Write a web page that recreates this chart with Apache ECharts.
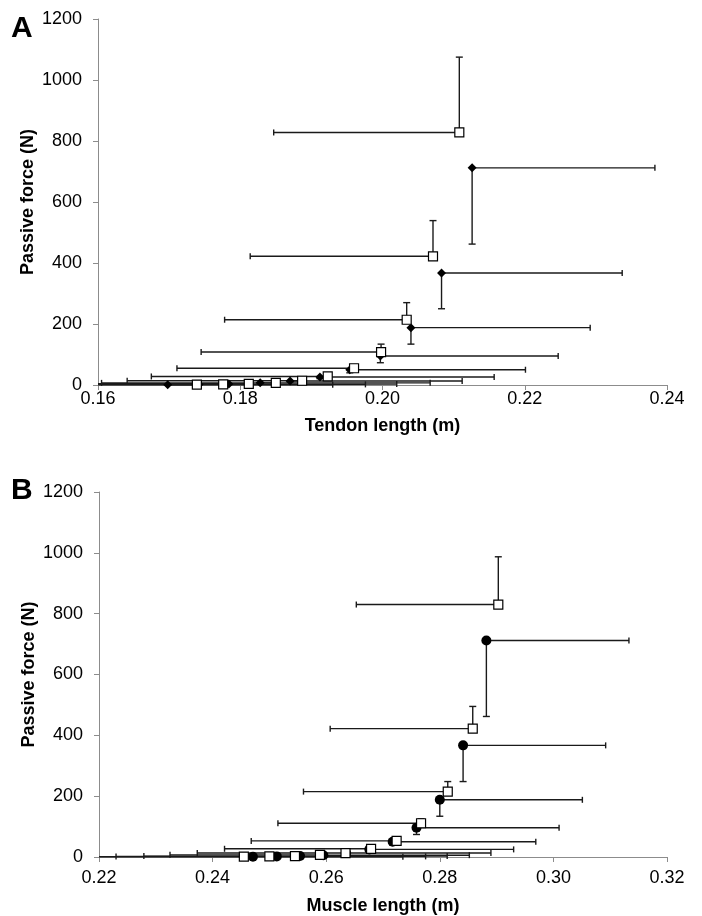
<!DOCTYPE html>
<html><head><meta charset="utf-8">
<script src="https://cdn.jsdelivr.net/npm/echarts@6/dist/echarts.min.js"></script>
<style>html,body{margin:0;padding:0;background:#fff}#c{width:702px;height:916px}</style>
</head><body><div id="c"></div>
<script>
// Panel A: tendon length vs passive force
const tendonOpenX    = [0.2108, 0.2071, 0.2034, 0.1998, 0.1960, 0.1923, 0.1887, 0.1850, 0.1812, 0.1776, 0.1739];
const tendonOpenY    = [828, 422, 214, 108, 55, 28, 14, 7, 4, 2, 1];
const tendonOpenXErr = [0.0261, 0.0257, 0.0256, 0.0253, 0.0249, 0.0248, 0.0246, 0.0245, 0.0244, 0.0243, 0.0242];
const tendonOpenYErr = [247, 117, 56, 26, 12, 6, 3, 2, 1, 0.5, 0.3];

const tendonFilledX    = [0.2126, 0.2083, 0.2040, 0.1997, 0.1954, 0.1912, 0.1870, 0.1828, 0.1784, 0.1742, 0.1698];
const tendonFilledY    = [712, 367, 188, 95, 50, 26, 13, 7, 3, 2, 1];
const tendonFilledXErr = [0.0257, 0.0254, 0.0252, 0.0250, 0.0247, 0.0245, 0.0242, 0.0239, 0.0236, 0.0234, 0.0232];
const tendonFilledYErr = [250, 117, 54, 22, 10, 5, 3, 1, 1, 0.5, 0.3];

// Panel B: muscle length vs passive force
const muscleOpenX    = [0.2903, 0.2858, 0.2814, 0.2767, 0.2724, 0.2679, 0.2634, 0.2589, 0.2545, 0.2500, 0.2455];
const muscleOpenY    = [830, 422, 215, 111, 53, 27, 13, 7, 3, 2, 1];
const muscleOpenXErr = [0.0250, 0.0251, 0.0254, 0.0252, 0.0256, 0.0258, 0.0261, 0.0264, 0.0266, 0.0270, 0.0272];
const muscleOpenYErr = [157, 73, 33, 15, 7, 4, 2, 1, 0.5, 0.3, 0.2];

const muscleFilledX    = [0.2882, 0.2841, 0.2800, 0.2759, 0.2717, 0.2676, 0.2635, 0.2595, 0.2554, 0.2513, 0.2471];
const muscleFilledY    = [712, 367, 188, 96, 50, 25, 13, 6, 3, 2, 1];
const muscleFilledXErr = [0.0251, 0.0251, 0.0251, 0.0251, 0.0252, 0.0254, 0.0255, 0.0257, 0.0259, 0.0262, 0.0264];
const muscleFilledYErr = [250, 119, 54, 22, 10, 5, 2, 1, 0.5, 0.3, 0.2];

const yTicks = [0, 200, 400, 600, 800, 1000, 1200];
const xRangeA = [0.16, 0.24];
const xRangeB = [0.22, 0.32];
const xStep = 0.02;
const titleA = 'Tendon length (m)';
const titleB = 'Muscle length (m)';
const yTitle = 'Passive force (N)';

const FONT = '"Liberation Sans", Arial, sans-serif';
const AXIS_COLOR = '#8c8c8c';
const BAR_COLOR = '#1a1a1a';

function errorSeries(idx, xs, ys, xe, ye, xDir, yDir, xMin) {
  const data = xs.map((x, i) => [x, ys[i], xe[i], ye[i]]);
  return {
    type: 'custom', xAxisIndex: idx, yAxisIndex: idx, data: data, z: 2, silent: true,
    renderItem: function (params, api) {
      const x = api.value(0), y = api.value(1), ex = api.value(2), ey = api.value(3);
      let x2 = x + xDir * ex, capX = true;
      if (x2 < xMin) { x2 = xMin; capX = false; }
      let y2 = y + yDir * ey, capY = true;
      if (y2 < 0) { y2 = 0; capY = false; }
      const p = api.coord([x, y]);
      const px = api.coord([x2, y]);
      const py = api.coord([x, y2]);
      const st = { stroke: BAR_COLOR, lineWidth: 1.4 };
      const ch = [
        { type: 'line', shape: { x1: p[0], y1: p[1], x2: px[0], y2: px[1] }, style: st },
        { type: 'line', shape: { x1: p[0], y1: p[1], x2: py[0], y2: py[1] }, style: st }
      ];
      if (capX) ch.push({ type: 'line', shape: { x1: px[0], y1: px[1] - 3, x2: px[0], y2: px[1] + 3 }, style: st });
      if (capY) ch.push({ type: 'line', shape: { x1: py[0] - 3.5, y1: py[1], x2: py[0] + 3.5, y2: py[1] }, style: st });
      return { type: 'group', children: ch };
    }
  };
}

function xAxis(idx, range, name, margin, nameGap) {
  return {
    type: 'value', gridIndex: idx, min: range[0], max: range[1], interval: xStep,
    name: name, nameLocation: 'middle', nameGap: nameGap,
    nameTextStyle: { fontFamily: FONT, fontSize: 18, fontWeight: 'bold', color: '#000' },
    axisLine: { show: true, onZero: false, lineStyle: { color: AXIS_COLOR, width: 1 } },
    axisTick: { show: true, length: 5, inside: false, lineStyle: { color: AXIS_COLOR } },
    axisLabel: { fontFamily: FONT, fontSize: 18, color: '#000', margin: margin,
      formatter: v => v.toFixed(2) },
    splitLine: { show: false }
  };
}
function yAxis(idx) {
  return {
    type: 'value', gridIndex: idx, min: yTicks[0], max: yTicks[yTicks.length - 1], interval: yTicks[1] - yTicks[0],
    name: yTitle, nameLocation: 'middle', nameRotate: 90, nameGap: 61, nameMoveOverlap: false,
    nameTextStyle: { fontFamily: FONT, fontSize: 18, fontWeight: 'bold', color: '#000' },
    axisLine: { show: true, lineStyle: { color: AXIS_COLOR, width: 1 } },
    axisTick: { show: true, length: 5, lineStyle: { color: AXIS_COLOR } },
    axisLabel: { fontFamily: FONT, fontSize: 18, color: '#000', margin: 16, formatter: v => String(v) },
    splitLine: { show: false }
  };
}

function pts(xs, ys) { return xs.map((x, i) => [x, ys[i]]); }

const openStyle = { color: '#fff', borderColor: '#000', borderWidth: 1.2, opacity: 1 };
const filledStyle = { color: '#000', opacity: 1 };

const option = {
  animation: false,
  backgroundColor: '#fff',
  grid: [
    { left: 98, top: 19, width: 569, height: 366 },
    { left: 99, top: 492, width: 568, height: 366 }
  ],
  xAxis: [xAxis(0, xRangeA, titleA, 5, 32), xAxis(1, xRangeB, titleB, 12, 40)],
  yAxis: [yAxis(0), yAxis(1)],
  graphic: [
    { type: 'text', left: 11, top: 14, style: { text: 'A', font: 'bold 30px ' + FONT, fill: '#000' } },
    { type: 'text', left: 11, top: 476, style: { text: 'B', font: 'bold 30px ' + FONT, fill: '#000' } }
  ],
  series: [
    errorSeries(0, tendonOpenX, tendonOpenY, tendonOpenXErr, tendonOpenYErr, -1, 1, xRangeA[0]),
    errorSeries(0, tendonFilledX, tendonFilledY, tendonFilledXErr, tendonFilledYErr, 1, -1, xRangeA[0]),
    errorSeries(1, muscleOpenX, muscleOpenY, muscleOpenXErr, muscleOpenYErr, -1, 1, xRangeB[0]),
    errorSeries(1, muscleFilledX, muscleFilledY, muscleFilledXErr, muscleFilledYErr, 1, -1, xRangeB[0]),
    { type: 'scatter', xAxisIndex: 0, yAxisIndex: 0, z: 4, symbol: 'diamond', symbolSize: 9,
      itemStyle: filledStyle, data: pts(tendonFilledX, tendonFilledY), silent: true },
    { type: 'scatter', xAxisIndex: 0, yAxisIndex: 0, z: 5, symbol: 'rect', symbolSize: 9,
      itemStyle: openStyle, data: pts(tendonOpenX, tendonOpenY), silent: true },
    { type: 'scatter', xAxisIndex: 1, yAxisIndex: 1, z: 4, symbol: 'circle', symbolSize: 10,
      itemStyle: filledStyle, data: pts(muscleFilledX, muscleFilledY), silent: true },
    { type: 'scatter', xAxisIndex: 1, yAxisIndex: 1, z: 5, symbol: 'rect', symbolSize: 9,
      itemStyle: openStyle, data: pts(muscleOpenX, muscleOpenY), silent: true }
  ]
};
const chart = echarts.init(document.getElementById('c'), null, { renderer: 'canvas' });
chart.setOption(option);
</script>
</body></html>
